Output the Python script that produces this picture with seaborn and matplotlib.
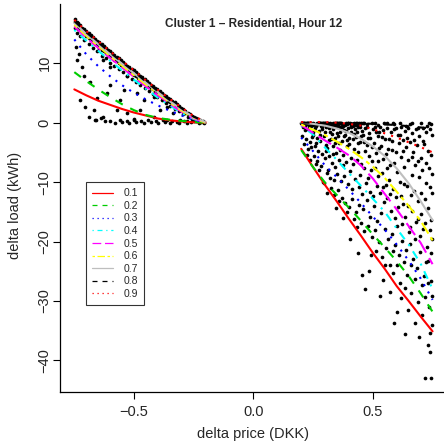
import pandas as pd
import matplotlib
matplotlib.use("Agg")
import matplotlib.pyplot as plt
from matplotlib.lines import Line2D
import seaborn as sns

# scatter points: price change vs load change
left_band = [
    (-0.748, 17.4), (-0.748, 16.9), (-0.748, 16.0), (-0.740, 17.0), (-0.740, 16.2), (-0.740, 15.1),
    (-0.733, 16.8), (-0.733, 15.7), (-0.725, 16.4), (-0.725, 15.6), (-0.725, 14.6), (-0.716, 16.0),
    (-0.716, 15.2), (-0.708, 15.7), (-0.708, 14.9), (-0.708, 13.9), (-0.699, 15.4), (-0.699, 14.5),
    (-0.690, 15.0), (-0.690, 14.2), (-0.690, 13.3), (-0.681, 14.8), (-0.681, 13.9), (-0.672, 14.4),
    (-0.672, 13.6), (-0.672, 12.6), (-0.663, 14.1), (-0.663, 13.2), (-0.654, 13.8), (-0.654, 13.0),
    (-0.654, 12.1), (-0.645, 13.5), (-0.645, 12.6), (-0.636, 13.2), (-0.636, 12.3), (-0.636, 11.2),
    (-0.627, 12.9), (-0.627, 12.0), (-0.618, 12.6), (-0.618, 11.8), (-0.618, 10.8), (-0.609, 12.3),
    (-0.609, 11.4), (-0.600, 12.0), (-0.600, 11.2), (-0.600, 10.1), (-0.591, 11.7), (-0.591, 10.8),
    (-0.582, 11.4), (-0.582, 10.6), (-0.582, 9.6), (-0.573, 11.1), (-0.573, 10.3), (-0.564, 10.8),
    (-0.564, 10.0), (-0.564, 9.0), (-0.555, 10.5), (-0.555, 9.7), (-0.546, 10.2), (-0.546, 9.5),
    (-0.546, 8.5), (-0.537, 9.9), (-0.537, 9.2), (-0.528, 9.6), (-0.528, 8.9), (-0.528, 7.9),
    (-0.519, 9.3), (-0.519, 8.6), (-0.510, 9.0), (-0.510, 8.3), (-0.510, 7.4), (-0.501, 8.8),
    (-0.501, 8.0), (-0.492, 8.5), (-0.492, 7.8), (-0.492, 6.9), (-0.483, 8.2), (-0.483, 7.5),
    (-0.474, 7.9), (-0.474, 7.2), (-0.474, 6.3), (-0.465, 7.6), (-0.465, 6.9), (-0.456, 7.3),
    (-0.456, 6.7), (-0.456, 5.8), (-0.447, 7.0), (-0.447, 6.4), (-0.438, 6.7), (-0.438, 6.1),
    (-0.438, 5.3), (-0.429, 6.4), (-0.429, 5.8), (-0.420, 6.2), (-0.420, 5.6), (-0.420, 4.8),
    (-0.411, 5.9), (-0.411, 5.3), (-0.402, 5.6), (-0.402, 5.0), (-0.402, 4.3), (-0.393, 5.3),
    (-0.393, 4.8), (-0.384, 5.0), (-0.384, 4.5), (-0.384, 3.8), (-0.375, 4.7), (-0.375, 4.2),
    (-0.366, 4.5), (-0.366, 4.0), (-0.366, 3.3), (-0.357, 4.2), (-0.357, 3.7), (-0.348, 3.9),
    (-0.348, 3.4), (-0.348, 2.8), (-0.339, 3.6), (-0.339, 3.2), (-0.330, 3.4), (-0.330, 2.9),
    (-0.330, 2.3), (-0.321, 3.1), (-0.321, 2.6), (-0.312, 2.8), (-0.312, 2.4), (-0.312, 1.9),
    (-0.303, 2.5), (-0.303, 2.1), (-0.294, 2.3), (-0.294, 1.9), (-0.294, 1.4), (-0.285, 2.0),
    (-0.285, 1.6), (-0.276, 1.7), (-0.276, 1.4), (-0.276, 1.0), (-0.267, 1.5), (-0.267, 1.1),
    (-0.258, 1.2), (-0.258, 0.9), (-0.258, 0.6), (-0.249, 1.0), (-0.249, 0.7), (-0.240, 0.8),
    (-0.240, 0.5), (-0.240, 0.3), (-0.231, 0.6), (-0.231, 0.4), (-0.222, 0.4), (-0.222, 0.2),
    (-0.213, 0.2), (-0.213, 0.1), (-0.205, 0.1), (-0.205, 0.0),
]
left_low = [
    (-0.739, 10.6), (-0.718, 9.4), (-0.711, 7.8), (-0.683, 6.9), (-0.725, 3.8), (-0.704, 2.7),
    (-0.669, 2.2), (-0.662, 0.5), (-0.628, 1.0), (-0.613, 5.0), (-0.600, 6.4), (-0.655, 4.1),
    (-0.572, 2.2), (-0.558, 3.8), (-0.544, 5.5), (-0.530, 1.6), (-0.502, 0.5), (-0.474, 2.2),
    (-0.460, 3.8), (-0.418, 1.0), (-0.390, 2.2), (-0.362, 0.5), (-0.335, 1.6), (-0.307, 0.5),
    (-0.279, 0.2), (-0.628, 10.6), (-0.600, 9.4), (-0.530, 7.8), (-0.488, 5.0), (-0.418, 4.4),
    (-0.362, 2.7), (-0.600, 0.2), (-0.580, 0.0), (-0.560, 0.4), (-0.550, 0.1), (-0.530, 0.3),
    (-0.520, 0.0), (-0.500, 0.6), (-0.490, 0.1), (-0.470, 0.3), (-0.460, 0.0), (-0.440, 0.5),
    (-0.430, 0.1), (-0.410, 0.2), (-0.400, 0.0), (-0.380, 0.4), (-0.370, 0.1), (-0.350, 0.0),
    (-0.340, 0.3), (-0.320, 0.1), (-0.310, 0.0), (-0.290, 0.2), (-0.280, 0.0), (-0.260, 0.1),
    (-0.250, 0.3), (-0.230, 0.0), (-0.220, 0.1), (-0.690, 1.0), (-0.660, 0.4), (-0.640, 0.8),
    (-0.620, 0.2), (-0.745, 12.8), (-0.730, 11.6),
]
right_top = [
    (0.200, 0.0), (0.206, -0.4), (0.212, -0.1), (0.218, -0.6), (0.224, 0.0), (0.230, -0.3),
    (0.236, -0.1), (0.242, -0.5), (0.248, 0.0), (0.254, -0.2), (0.260, -0.6), (0.266, 0.0),
    (0.272, -0.3), (0.278, -0.1), (0.284, -0.5), (0.290, 0.0), (0.296, -0.2), (0.302, -0.6),
    (0.308, 0.0), (0.314, -0.4), (0.320, -0.1), (0.326, -0.3), (0.332, 0.0), (0.338, -0.6),
    (0.344, -0.2), (0.350, 0.0), (0.356, -0.4), (0.362, -0.1), (0.368, 0.0), (0.374, -0.5),
    (0.380, -0.2), (0.386, 0.0), (0.392, -0.3), (0.398, -0.1), (0.404, 0.0), (0.410, -0.5),
    (0.416, -0.2), (0.422, 0.0), (0.428, -0.4), (0.434, -0.1), (0.440, 0.0), (0.446, -0.3),
    (0.452, -0.1), (0.458, 0.0), (0.475, -0.2), (0.495, 0.0), (0.520, -0.4), (0.545, -0.1),
    (0.560, 0.0), (0.590, -0.3), (0.615, 0.0), (0.640, -0.5), (0.665, -0.1), (0.700, 0.0),
    (0.725, -0.6), (0.745, -0.2), (0.203, -0.2), (0.209, 0.0), (0.215, -0.3), (0.227, -0.1),
    (0.239, 0.0), (0.251, -0.4), (0.263, -0.2), (0.275, 0.0), (0.287, -0.3), (0.299, -0.1),
    (0.311, 0.0), (0.323, -0.5), (0.335, -0.2), (0.347, -0.4), (0.359, 0.0), (0.371, -0.2),
    (0.383, -0.4), (0.395, 0.0), (0.407, -0.2), (0.419, -0.4), (0.431, 0.0), (0.443, -0.5),
    (0.465, 0.0), (0.510, -0.1), (0.585, 0.0), (0.655, -0.3), (0.735, 0.0),
]
right_low = [
    (0.214, -1.2), (0.205, -2.3), (0.212, -3.6), (0.208, -0.8), (0.229, -1.0), (0.220, -2.8),
    (0.227, -4.5), (0.223, -5.4), (0.231, -0.6), (0.244, -1.6), (0.235, -3.3), (0.242, -4.1),
    (0.238, -6.2), (0.246, -2.4), (0.259, -0.9), (0.250, -2.1), (0.257, -3.9), (0.253, -5.6),
    (0.261, -7.0), (0.249, -1.5), (0.274, -1.4), (0.265, -2.6), (0.272, -4.8), (0.268, -6.5),
    (0.276, -8.0), (0.264, -3.5), (0.289, -1.1), (0.280, -3.1), (0.287, -5.2), (0.283, -7.3),
    (0.291, -9.9), (0.279, -2.0), (0.285, -0.7), (0.304, -0.8), (0.295, -2.2), (0.302, -3.7),
    (0.298, -6.0), (0.306, -8.4), (0.294, -10.2), (0.300, -1.5), (0.303, -4.8), (0.319, -1.5),
    (0.310, -4.2), (0.317, -5.6), (0.313, -7.9), (0.321, -9.3), (0.309, -11.8), (0.315, -2.9),
    (0.318, -0.9), (0.334, -1.0), (0.325, -2.7), (0.332, -3.9), (0.328, -6.8), (0.336, -9.6),
    (0.324, -11.0), (0.330, -1.9), (0.333, -5.3), (0.349, -1.8), (0.340, -3.4), (0.347, -5.1),
    (0.343, -7.5), (0.351, -8.7), (0.339, -12.1), (0.345, -14.4), (0.348, -0.6), (0.342, -2.5),
    (0.364, -0.7), (0.355, -2.3), (0.362, -4.6), (0.358, -6.2), (0.366, -9.8), (0.354, -11.4),
    (0.360, -13.1), (0.363, -1.5), (0.357, -3.4), (0.379, -1.3), (0.370, -3.0), (0.377, -5.5),
    (0.373, -7.1), (0.381, -8.9), (0.369, -12.6), (0.375, -16.0), (0.378, -2.2), (0.372, -0.7),
    (0.394, -0.9), (0.385, -2.0), (0.392, -4.0), (0.388, -6.6), (0.396, -10.3), (0.384, -13.5),
    (0.390, -15.0), (0.393, -2.9), (0.387, -1.4), (0.409, -1.6), (0.400, -3.6), (0.407, -5.9),
    (0.403, -8.2), (0.411, -11.2), (0.399, -14.2), (0.405, -19.5), (0.408, -0.7), (0.402, -2.6),
    (0.424, -1.1), (0.415, -2.8), (0.422, -4.4), (0.418, -7.0), (0.426, -9.5), (0.414, -12.9),
    (0.420, -16.2), (0.423, -1.9), (0.417, -0.6), (0.439, -0.8), (0.430, -2.4), (0.437, -5.0),
    (0.433, -6.3), (0.441, -10.8), (0.429, -15.1), (0.435, -17.5), (0.438, -21.9), (0.432, -1.6),
    (0.436, -3.4), (0.454, -1.4), (0.445, -3.3), (0.452, -6.9), (0.448, -8.8), (0.456, -12.0),
    (0.444, -13.8), (0.450, -16.9), (0.453, -25.6), (0.447, -0.7), (0.451, -2.2), (0.469, -0.9),
    (0.460, -2.1), (0.467, -4.7), (0.463, -7.6), (0.471, -10.1), (0.459, -14.6), (0.465, -18.3),
    (0.468, -28.0), (0.462, -3.2), (0.484, -1.7), (0.475, -3.8), (0.482, -5.6), (0.478, -9.3),
    (0.486, -11.7), (0.474, -13.0), (0.480, -17.4), (0.483, -25.0), (0.477, -0.8), (0.481, -2.6),
    (0.499, -1.0), (0.490, -2.6), (0.497, -6.4), (0.493, -8.0), (0.501, -12.4), (0.489, -15.8),
    (0.495, -19.2), (0.498, -4.1), (0.492, -22.3), (0.514, -1.5), (0.505, -3.4), (0.512, -5.1),
    (0.508, -7.7), (0.516, -10.6), (0.504, -14.0), (0.510, -18.0), (0.513, -21.5), (0.507, -0.7),
    (0.529, -0.8), (0.520, -2.2), (0.527, -4.3), (0.523, -9.0), (0.531, -11.9), (0.519, -16.6),
    (0.525, -20.1), (0.528, -29.2), (0.522, -6.5), (0.526, -1.6), (0.544, -1.3), (0.535, -3.9),
    (0.542, -6.1), (0.538, -8.5), (0.546, -13.4), (0.534, -15.2), (0.540, -22.6), (0.543, -26.4),
    (0.537, -2.4), (0.541, -10.9), (0.559, -0.9), (0.550, -2.7), (0.557, -5.3), (0.553, -10.4),
    (0.561, -12.7), (0.549, -17.8), (0.555, -21.0), (0.558, -7.6), (0.552, -24.0), (0.574, -1.6),
    (0.565, -4.5), (0.572, -7.2), (0.568, -9.6), (0.576, -14.8), (0.564, -19.5), (0.570, -23.9),
    (0.573, -28.4), (0.567, -2.8), (0.571, -12.0), (0.589, -1.1), (0.580, -3.0), (0.587, -6.8),
    (0.583, -11.1), (0.591, -16.1), (0.579, -18.7), (0.585, -25.2), (0.588, -33.7), (0.582, -4.6),
    (0.586, -21.5), (0.604, -2.0), (0.595, -4.9), (0.602, -8.3), (0.598, -12.5), (0.606, -14.2),
    (0.594, -20.6), (0.600, -24.0), (0.603, -31.8), (0.597, -0.9), (0.601, -17.3), (0.619, -0.8),
    (0.610, -3.5), (0.617, -5.8), (0.613, -9.9), (0.621, -17.0), (0.609, -22.2), (0.615, -26.9),
    (0.618, -12.4), (0.612, -2.1), (0.616, -29.5), (0.634, -1.4), (0.625, -2.9), (0.632, -7.4),
    (0.628, -13.6), (0.636, -15.9), (0.624, -19.9), (0.630, -23.5), (0.633, -27.8), (0.635, -35.5),
    (0.627, -4.8), (0.631, -10.3), (0.649, -0.9), (0.640, -4.1), (0.647, -6.2), (0.643, -10.7),
    (0.651, -18.4), (0.639, -21.4), (0.645, -25.7), (0.648, -31.5), (0.642, -2.5), (0.646, -14.0),
    (0.664, -1.7), (0.655, -3.2), (0.662, -8.8), (0.658, -12.2), (0.666, -14.9), (0.654, -20.4),
    (0.660, -28.6), (0.663, -5.7), (0.657, -17.5), (0.661, -23.9), (0.679, -1.0), (0.670, -5.0),
    (0.677, -7.1), (0.673, -11.5), (0.681, -16.7), (0.669, -22.9), (0.675, -26.3), (0.678, -33.7),
    (0.672, -2.9), (0.676, -19.6), (0.694, -2.3), (0.685, -3.8), (0.692, -9.2), (0.688, -13.1),
    (0.696, -19.0), (0.684, -24.5), (0.690, -30.1), (0.693, -36.0), (0.687, -0.9), (0.691, -6.4),
    (0.689, -16.2), (0.709, -0.9), (0.700, -6.0), (0.707, -8.0), (0.703, -15.4), (0.711, -17.8),
    (0.699, -21.7), (0.705, -27.3), (0.708, -3.1), (0.702, -11.9), (0.706, -32.4), (0.724, -1.5),
    (0.715, -3.6), (0.722, -10.2), (0.718, -12.8), (0.726, -20.9), (0.714, -25.8), (0.720, -29.4),
    (0.718, -42.9), (0.723, -6.7), (0.717, -16.8), (0.721, -23.5), (0.739, -1.1), (0.730, -4.7),
    (0.737, -7.6), (0.733, -14.3), (0.741, -18.1), (0.729, -23.2), (0.735, -31.0), (0.731, -37.4),
    (0.738, -10.8), (0.732, -27.0), (0.748, -2.0), (0.744, -5.5), (0.747, -11.8), (0.745, -16.4),
    (0.749, -19.6), (0.743, -26.7), (0.746, -34.0), (0.743, -42.9), (0.739, -38.6), (0.739, -35.4),
    (0.748, -8.6), (0.745, -22.0), (0.749, -29.1),
]

# quantile curves, read at these prices
quantiles = ["0.1", "0.2", "0.3", "0.4", "0.5", "0.6", "0.7", "0.8", "0.9"]
left_price = [-0.75, -0.70, -0.65, -0.60, -0.55, -0.50, -0.45, -0.40, -0.35, -0.30, -0.25, -0.20]
left_curves = {
    "0.1": [5.6, 4.6, 3.7, 3.0, 2.3, 1.7, 1.2, 0.7, 0.4, 0.2, 0.05, 0.0],
    "0.2": [8.5, 7.0, 5.6, 4.3, 3.1, 2.1, 1.3, 0.8, 0.5, 0.3, 0.1, 0.0],
    "0.3": [14.0, 11.5, 9.5, 7.8, 6.3, 5.0, 3.9, 2.9, 2.0, 1.2, 0.5, 0.0],
    "0.4": [15.6, 13.8, 12.1, 10.4, 8.8, 7.2, 5.7, 4.2, 2.9, 1.6, 0.6, 0.0],
    "0.5": [16.2, 14.3, 12.6, 10.9, 9.3, 7.7, 6.1, 4.6, 3.2, 1.8, 0.7, 0.0],
    "0.6": [16.5, 14.6, 12.9, 11.2, 9.6, 8.0, 6.4, 4.9, 3.4, 2.0, 0.8, 0.0],
    "0.7": [16.8, 14.9, 13.2, 11.5, 9.9, 8.3, 6.7, 5.1, 3.6, 2.2, 0.9, 0.1],
    "0.8": [17.1, 15.2, 13.5, 11.8, 10.2, 8.6, 6.9, 5.3, 3.8, 2.4, 1.0, 0.1],
    "0.9": [17.3, 15.4, 13.7, 12.0, 10.4, 8.8, 7.1, 5.5, 4.0, 2.5, 1.1, 0.1],
}
right_price = [0.20, 0.25, 0.30, 0.35, 0.40, 0.45, 0.50, 0.55, 0.60, 0.65, 0.70, 0.75]
right_curves = {
    "0.1": [-4.4, -7.5, -10.5, -13.3, -16.2, -19.0, -21.9, -24.6, -27.5, -30.0, -32.6, -35.1],
    "0.2": [-4.6, -7.5, -10.1, -12.2, -14.3, -16.5, -18.8, -21.0, -23.3, -25.8, -28.7, -31.8],
    "0.3": [-2.5, -4.8, -7.2, -9.2, -11.3, -13.5, -15.8, -18.0, -20.5, -23.2, -26.2, -29.8],
    "0.4": [-0.5, -2.0, -4.2, -6.3, -8.5, -10.6, -12.8, -15.0, -17.8, -20.5, -23.7, -28.0],
    "0.5": [-0.4, -1.7, -3.0, -4.2, -5.5, -7.2, -9.4, -12.0, -14.6, -17.4, -20.2, -23.8],
    "0.6": [-0.3, -1.2, -2.1, -3.2, -4.4, -5.8, -7.4, -9.3, -11.6, -14.0, -16.5, -19.8],
    "0.7": [0.0, -0.2, -0.5, -1.0, -1.7, -2.7, -4.0, -5.6, -7.7, -10.2, -13.2, -16.4],
    "0.8": [0.0, 0.0, 0.0, 0.0, -0.1, -0.1, -0.2, -0.3, -0.4, -0.6, -0.8, -1.0],
    "0.9": [0.1, 0.1, 0.1, 0.0, -0.2, -0.5, -1.1, -1.8, -2.5, -3.3, -4.1, -5.0],
}

colors = ["#FF0000", "#00CD00", "#0000FF", "#00FFFF", "#FF00FF", "#FFFF00", "#BEBEBE", "#000000", "#FF0000"]
styles = ["-", (0, (4, 4)), (0, (1, 3)), (0, (1, 3, 4, 3)), (0, (7, 3)),
          (0, (2, 2, 6, 2)), "-", (0, (4, 4)), (0, (1, 3))]

pts = pd.DataFrame(left_band + left_low + right_top + right_low, columns=["price", "load"])

sns.set_style("ticks")
plt.rcParams["font.family"] = ["Liberation Sans", "DejaVu Sans"]

fig = plt.figure(figsize=(4.44, 4.41), dpi=100)
ax = fig.add_axes([0.1351, 0.1111, 0.8714, 0.879])

sns.scatterplot(data=pts, x="price", y="load", color="black", s=7, linewidth=0, ax=ax, zorder=2)

for q, c, ls in zip(quantiles, colors, styles):
    sns.lineplot(x=left_price, y=left_curves[q], color=c, linestyle=ls, linewidth=1.5, ax=ax, zorder=3)
    sns.lineplot(x=right_price, y=right_curves[q], color=c, linestyle=ls, linewidth=1.5, ax=ax, zorder=3)

ax.set_xlim(-0.81, 0.81)
ax.set_ylim(-45.3, 19.9)
ax.set_xticks([-0.5, 0.0, 0.5])
ax.set_xticklabels(["\u22120.5", "0.0", "0.5"])
ax.set_yticks([-40, -30, -20, -10, 0, 10])
ax.set_yticklabels(["\u221240", "\u221230", "\u221220", "\u221210", "0", "10"],
                   rotation=90, va="center")
ax.tick_params(axis="both", labelsize=10.5, length=5, width=0.8, color="black")
ax.tick_params(axis="x", pad=4)
ax.tick_params(axis="y", pad=1)
sns.despine(ax=ax)
for sp in ["left", "bottom"]:
    ax.spines[sp].set_linewidth(0.9)
    ax.spines[sp].set_color("black")

ax.set_xlabel("delta price (DKK)", fontsize=10.5, labelpad=6)
ax.set_ylabel("")
fig.text(15 / 444, 0.535, "delta load (kWh)", rotation=90, ha="center", va="center", fontsize=10.5)
ax.text(0.0, 16.6, "Cluster 1 \u2013 Residential, Hour 12", ha="center", va="center",
        fontsize=8.5, fontweight="bold")

handles = [Line2D([], [], color=c, linestyle=ls, linewidth=0.9) for c, ls in zip(colors, styles)]
leg = ax.legend(handles, quantiles, loc="upper left", bbox_to_anchor=(0.067, 0.542),
                fontsize=7.5, frameon=True, fancybox=False, edgecolor="black",
                handlelength=2.0, handletextpad=1.0, labelspacing=0.25, borderpad=0.6,
                borderaxespad=0)
leg.get_frame().set_linewidth(0.8)

fig.savefig("out.png", dpi=100)
